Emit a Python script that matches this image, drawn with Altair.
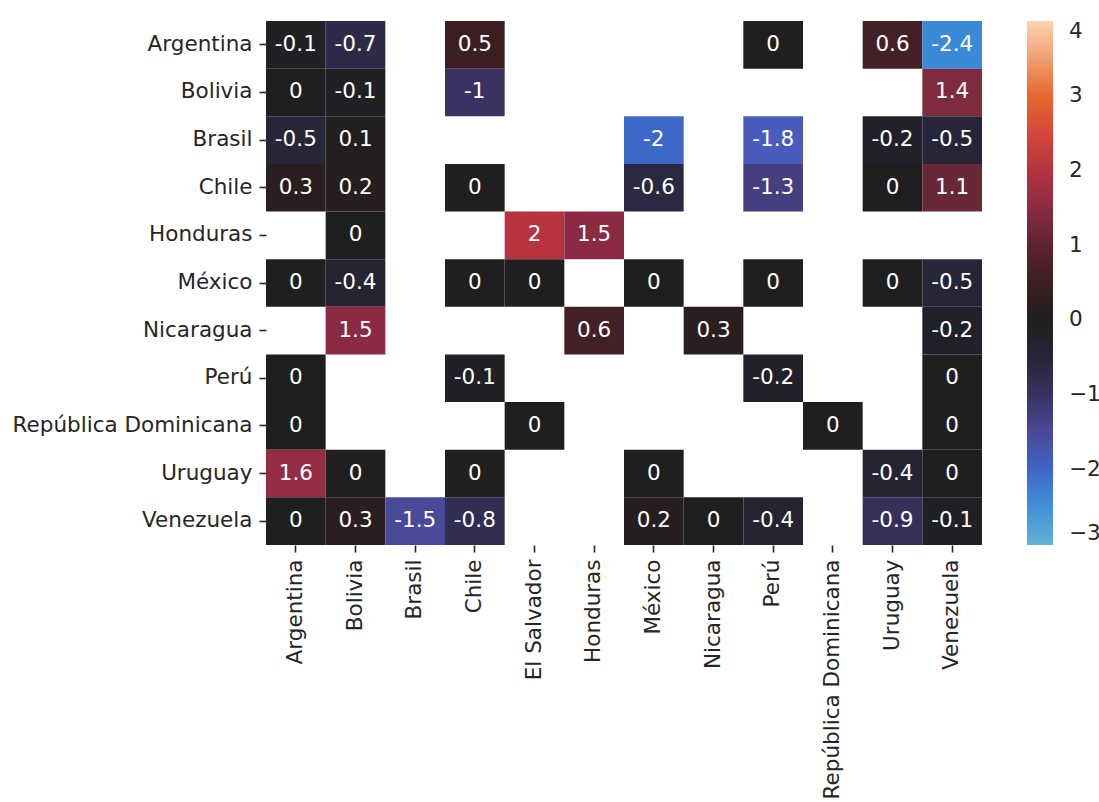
import altair as alt
import pandas as pd

# Countries on each axis (columns = x, rows = y)
columns = ["Argentina", "Bolivia", "Brasil", "Chile", "El Salvador", "Honduras",
           "México", "Nicaragua", "Perú", "República Dominicana", "Uruguay", "Venezuela"]
rows = ["Argentina", "Bolivia", "Brasil", "Chile", "Honduras", "México",
        "Nicaragua", "Perú", "República Dominicana", "Uruguay", "Venezuela"]

# One list per row, aligned with `columns`; None = no value
row_argentina = [-0.1, -0.7, None, 0.5, None, None, None, None, 0, None, 0.6, -2.4]
row_bolivia = [0, -0.1, None, -1, None, None, None, None, None, None, None, 1.4]
row_brasil = [-0.5, 0.1, None, None, None, None, -2, None, -1.8, None, -0.2, -0.5]
row_chile = [0.3, 0.2, None, 0, None, None, -0.6, None, -1.3, None, 0, 1.1]
row_honduras = [None, 0, None, None, 2, 1.5, None, None, None, None, None, None]
row_mexico = [0, -0.4, None, 0, 0, None, 0, None, 0, None, 0, -0.5]
row_nicaragua = [None, 1.5, None, None, None, 0.6, None, 0.3, None, None, None, -0.2]
row_peru = [0, None, None, -0.1, None, None, None, None, -0.2, None, None, 0]
row_repdom = [0, None, None, None, 0, None, None, None, None, 0, None, 0]
row_uruguay = [1.6, 0, None, 0, None, None, 0, None, None, None, -0.4, 0]
row_venezuela = [0, 0.3, -1.5, -0.8, None, None, 0.2, 0, -0.4, None, -0.9, -0.1]

matrix = [row_argentina, row_bolivia, row_brasil, row_chile, row_honduras, row_mexico,
          row_nicaragua, row_peru, row_repdom, row_uruguay, row_venezuela]

# Diverging colour ramp centred on 0 (dark), blue below, red/orange above
color_domain = [-3, -2.4, -2, -1.8, -1.5, -1.3, -1, -0.5, 0, 0.3, 0.6, 1, 1.1, 1.4, 1.5, 2, 2.5, 3, 3.5, 4]
color_range = ["#62b2d3", "#3a8ad5", "#3d67c9", "#4a5bbe", "#4a4a9a", "#453f80", "#393263",
               "#272538", "#1f1f1f", "#2b1e20", "#432025", "#5e2330", "#672838", "#7e2b40",
               "#8b2b43", "#b6333f", "#d5473a", "#e5682f", "#f0a071", "#fdd4b3"]

records = []
for r, vals in zip(rows, matrix):
    for c, v in zip(columns, vals):
        if v is not None:
            records.append({"row": r, "col": c, "value": v, "label": f"{v:g}"})
df = pd.DataFrame(records)

FONT = "DejaVu Sans"
TXT = "#262626"
FS = 21.5

base = alt.Chart(df).encode(
    x=alt.X("col:N", sort=columns, scale=alt.Scale(domain=columns, paddingInner=0, paddingOuter=0),
            axis=alt.Axis(title=None, labelAngle=-90)),
    y=alt.Y("row:N", sort=rows, scale=alt.Scale(domain=rows, paddingInner=0, paddingOuter=0),
            axis=alt.Axis(title=None)),
)

cells = base.mark_rect(stroke=None, strokeWidth=0).encode(
    color=alt.Color(
        "value:Q",
        scale=alt.Scale(domain=color_domain, range=color_range, interpolate="rgb", clamp=True),
        legend=alt.Legend(
            title=None, direction="vertical", gradientLength=524, gradientThickness=26,
            values=[-3, -2, -1, 0, 1, 2, 3, 4], offset=45, labelOverlap=False,
            labelExpr="replace(format(datum.value, 'd'), '-', '\u2212')",
            labelBaseline="middle", labelOffset=16,
        ),
    )
)

labels = base.mark_text(color="white", font=FONT, fontSize=FS).encode(text="label:N")

chart = (
    alt.layer(cells, labels)
    .properties(width=716, height=524,
                autosize=alt.AutoSizeParams(type="none"),
                padding={"left": 266, "top": 21, "right": 117, "bottom": 257})
    .configure(background="white")
    .configure_view(stroke=None)
    .configure_axis(domain=False, ticks=True, tickSize=7, tickColor=TXT, tickWidth=1.6,
                    labelFont=FONT, labelFontSize=FS, labelColor=TXT, labelPadding=7,
                    labelLimit=0)
    .configure_legend(labelFont=FONT, labelFontSize=FS, labelColor=TXT, gradientStrokeWidth=0)
)

chart.save("out.html", embed_options={"renderer": "svg", "actions": False})
